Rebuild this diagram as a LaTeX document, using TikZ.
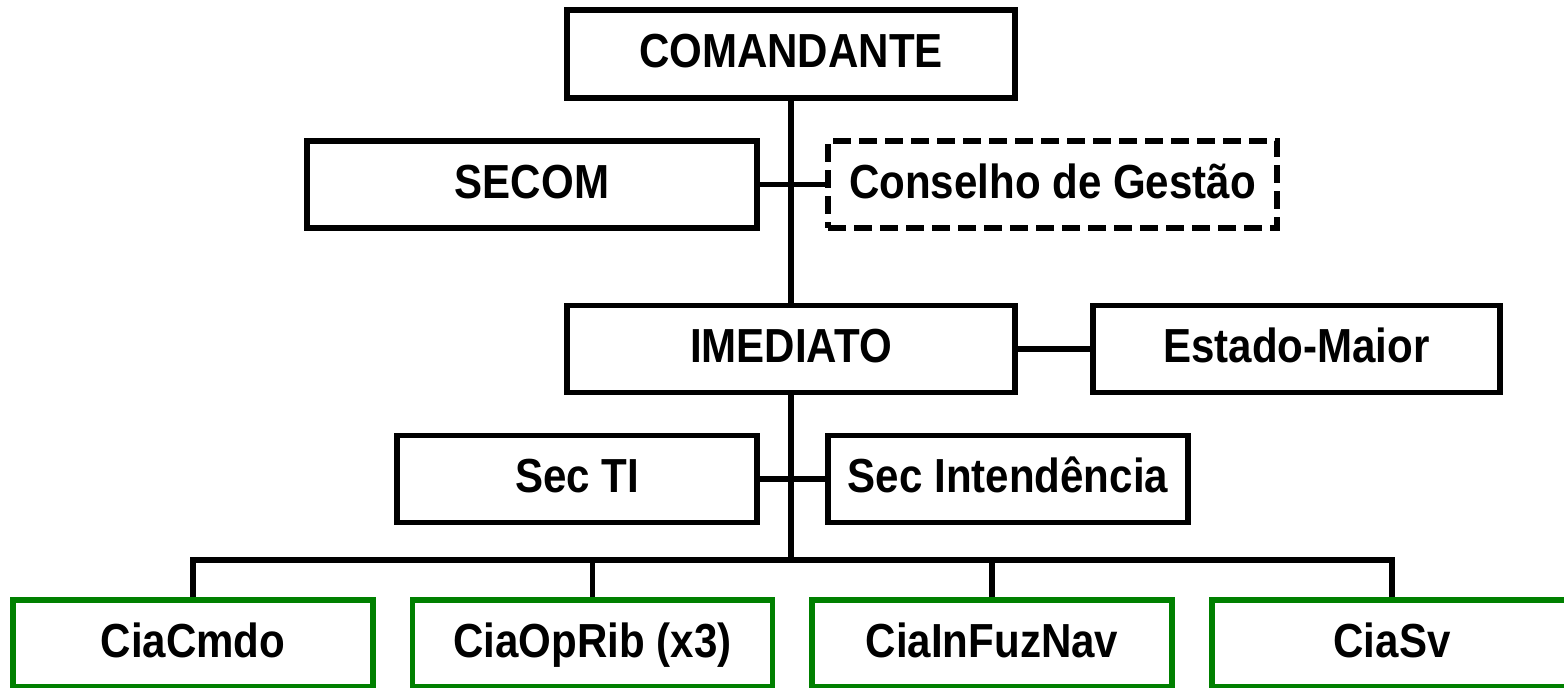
\documentclass[tikz,border=0pt]{standalone}
\usepackage{fontspec}
\setmainfont{Liberation Sans}[FakeStretch=0.88]
\begin{document}
\begin{tikzpicture}[font=\fontsize{13.6}{16}\selectfont\bfseries]

\tikzstyle{box1}=[rectangle, draw, line width=1.7pt, minimum height=0.87cm, inner sep=0pt, text height=0.78em, text depth=0pt]
\tikzstyle{box2}=[box1, dash pattern=on 5pt off 2.4pt]
\tikzstyle{box3}=[box1, draw={rgb,255:red,0;green,128;blue,0}, minimum width=3.6cm]
\tikzstyle{line}=[line width=1.6pt]

\clip (0,0) rectangle (15.64,-6.88);

\node (cmd) [box1, minimum width=4.48cm, minimum height=0.88cm] at (7.91,-0.54) {COMANDANTE};
\node (secom) [box1, minimum width=4.50cm] at (5.32,-1.845) {SECOM};
\node (cons) [box2, minimum width=4.49cm] at (10.525,-1.845) {Conselho de Gestão};
\node (imed) [box1, minimum width=4.48cm] at (7.91,-3.49) {IMEDIATO};
\node (em) [box1, minimum width=4.07cm] at (12.965,-3.49) {Estado-Maior};
\node (secti) [box1, minimum width=3.60cm] at (5.77,-4.79) {Sec TI};
\node (secint) [box1, minimum width=3.60cm] at (10.08,-4.79) {Sec Intendência};

\node (cmdo) [box3] at (1.93,-6.435) {CiaCmdo};
\node (oprib) [box3] at (5.925,-6.435) {CiaOpRib (x3)};
\node (infuz) [box3] at (9.92,-6.435) {CiaInFuzNav};
\node (sv) [box3] at (13.92,-6.435) {CiaSv};

\coordinate (bus) at (7.91,-5.60);

\draw [line] (cmd) -- (imed);
\draw [line] (secom) -- (cons);
\draw [line] (imed) -- (em);
\draw [line] (secti) -- (secint);
\draw [line] (imed) -- (bus);
\draw [line] (bus) -| (cmdo);
\draw [line] (bus) -| (oprib);
\draw [line] (bus) -| (infuz);
\draw [line] (bus) -| (sv);

\end{tikzpicture}
\end{document}
